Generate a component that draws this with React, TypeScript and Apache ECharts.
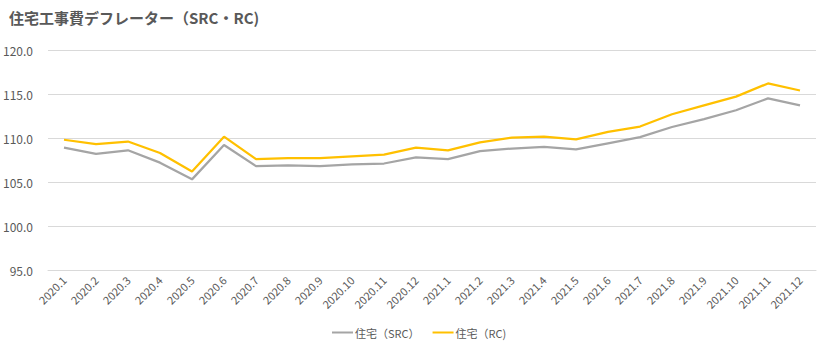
import React, { useEffect, useRef } from "react";
import * as echarts from "echarts";

const categories = [
  "2020.1", "2020.2", "2020.3", "2020.4", "2020.5", "2020.6", "2020.7", "2020.8", "2020.9", "2020.10", "2020.11", "2020.12",
  "2021.1", "2021.2", "2021.3", "2021.4", "2021.5", "2021.6", "2021.7", "2021.8", "2021.9", "2021.10", "2021.11", "2021.12",
];
const srcValues = [
  108.9, 108.2, 108.6, 107.2, 105.3, 109.2, 106.8, 106.9, 106.8, 107.0, 107.1, 107.8,
  107.6, 108.5, 108.8, 109.0, 108.7, 109.4, 110.1, 111.25, 112.15, 113.15, 114.5, 113.7,
];
const rcValues = [
  109.8, 109.3, 109.6, 108.3, 106.2, 110.15, 107.6, 107.7, 107.7, 107.9, 108.1, 108.9,
  108.6, 109.5, 110.05, 110.15, 109.85, 110.7, 111.3, 112.7, 113.7, 114.7, 116.2, 115.4,
];
const seriesNames = ["住宅（SRC）", "住宅（RC)"];
const titleText = "住宅工事費デフレーター（SRC・RC)";

const FONT = "'Noto Sans CJK JP', 'Noto Sans', sans-serif";

export default function App() {
  const ref = useRef<HTMLDivElement>(null);
  useEffect(() => {
    if (!ref.current) return;
    const chart = echarts.init(ref.current, undefined, { renderer: "svg" });
    chart.setOption({
      animation: false,
      backgroundColor: "#ffffff",
      title: {
        text: titleText,
        left: 4,
        top: 5,
        textStyle: { fontFamily: FONT, fontSize: 15, fontWeight: "bold", color: "#595959" },
      },
      grid: { left: 48, right: 8, top: 50, bottom: 82, containLabel: false },
      legend: {
        bottom: 9,
        left: 327,
        icon: "rect",
        itemWidth: 21,
        itemHeight: 2,
        itemGap: 13,
        textStyle: { fontFamily: FONT, fontSize: 11, color: "#595959", padding: [0, 0, 0, -3] },
        data: seriesNames,
      },
      xAxis: {
        type: "category",
        data: categories,
        boundaryGap: true,
        axisLine: { show: true, lineStyle: { color: "#D9D9D9" } },
        axisTick: { show: false },
        axisLabel: { rotate: 45, interval: 0, fontFamily: FONT, fontSize: 11, color: "#595959", margin: 8 },
      },
      yAxis: {
        type: "value",
        min: 95,
        max: 120,
        interval: 5,
        axisLine: { show: false },
        axisTick: { show: false },
        splitLine: { lineStyle: { color: "#D9D9D9" } },
        axisLabel: {
          formatter: (v: number) => v.toFixed(1),
          fontFamily: FONT,
          fontSize: 12,
          color: "#595959",
          margin: 15,
        },
      },
      series: [
        {
          name: seriesNames[0],
          type: "line",
          data: srcValues,
          symbol: "none",
          lineStyle: { color: "#A5A5A5", width: 2.25 },
          itemStyle: { color: "#A5A5A5" },
        },
        {
          name: seriesNames[1],
          type: "line",
          data: rcValues,
          symbol: "none",
          lineStyle: { color: "#FFC000", width: 2.25 },
          itemStyle: { color: "#FFC000" },
        },
      ],
    });
    return () => chart.dispose();
  }, []);
  return <div ref={ref} style={{ width: 824, height: 352, position: "absolute", left: 0, top: 0 }} />;
}
